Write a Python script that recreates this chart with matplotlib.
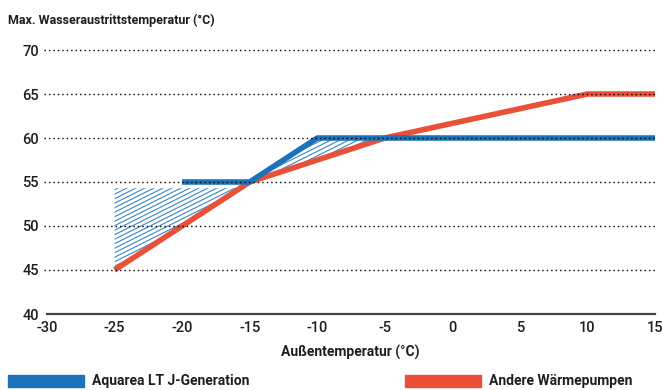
import numpy as np
import matplotlib
matplotlib.use("Agg")
import matplotlib.pyplot as plt
from matplotlib.collections import LineCollection
from matplotlib.patches import PathPatch

# ---- data ----
x_ticks = [-30, -25, -20, -15, -10, -5, 0, 5, 10, 15]
y_ticks = [40, 45, 50, 55, 60, 65, 70]

blue_x = [-20, -15, -10, 15]
blue_y = [55, 55, 60, 60]

red_x = [-25, -15, -5, 10, 15]
red_y = [45, 55, 60, 65, 65]

shade1_x = [-25, -15]
shade1_top = 54.3
shade2_x = [-15, -5]

title = "Max. Wasseraustrittstemperatur (°C)"
xlabel = "Außentemperatur (°C)"
label_blue = "Aquarea LT J-Generation"
label_red = "Andere Wärmepumpen"

BLUE = "#1b72b9"
RED = "#ea4f38"
TXT = "#1e1e1e"

plt.rcParams['font.family'] = ["Roboto", "DejaVu Sans"]

fig = plt.figure(figsize=(6.62, 3.9), dpi=100)
ax = fig.add_axes([47/662, 1-314/390, 608/662, 264/390])
ax.set_xlim(-30, 15)
ax.set_ylim(40, 70)

# shaded regions (hatched)
xs1 = np.linspace(shade1_x[0], shade1_x[1], 200)
r1 = np.interp(xs1, red_x, red_y)
m1 = r1 < shade1_top
xs2 = np.linspace(shade2_x[0], shade2_x[1], 200)
r2 = np.interp(xs2, red_x, red_y)
b2 = np.interp(xs2, blue_x, blue_y)

p1 = ax.fill_between(xs1[m1], r1[m1], shade1_top, facecolor='none', edgecolor='none')
p2 = ax.fill_between(xs2, r2, b2, facecolor='none', edgecolor='none')
W, H = 608.0, 264.0
slope = 0.5
for pc in (p1, p2):
    for path in pc.get_paths():
        patch = PathPatch(path, transform=ax.transData, facecolor='none', edgecolor='none')
        ax.add_patch(patch)
        segs = []
        for c in np.arange(-400, 300, 4.5):
            segs.append([(0, c / H), (1, (c + slope * W) / H)])
        lc = LineCollection(segs, colors="#3a86c4", linewidths=0.8, transform=ax.transAxes, zorder=1)
        ax.add_collection(lc)
        lc.set_clip_path(patch)

ax.plot(red_x, red_y, color=RED, lw=4.0, solid_capstyle='butt', zorder=3, clip_on=False)
ax.plot(blue_x, blue_y, color=BLUE, lw=4.0, solid_capstyle='butt', zorder=4, clip_on=False)

# dotted grid on top
for y in y_ticks[1:]:
    ax.plot([-30.2, 15], [y, y], color='black', lw=1.0, linestyle=(0, (1, 2.2)), zorder=5, clip_on=False)

for s in ['top', 'right', 'left']:
    ax.spines[s].set_visible(False)
ax.spines['bottom'].set_color('#444444')
ax.spines['bottom'].set_linewidth(1.6)
ax.set_xticks(x_ticks)
ax.set_yticks(y_ticks)
ax.tick_params(length=0, labelsize=10.5, colors=TXT)
ax.tick_params(axis='y', pad=6)
ax.tick_params(axis='x', pad=5)
ax.set_xticklabels([("-" + str(-t)) if t < 0 else str(t) for t in x_ticks])
for lab in ax.get_xticklabels() + ax.get_yticklabels():
    lab.set_fontweight('medium')

fig.text(8/662, 1-20/390, title, fontsize=9, fontweight='bold', color=TXT, va='center', ha='left')
fig.text(350/662, 1-352/390, xlabel, fontsize=10, fontweight='bold', color=TXT, va='center', ha='center')

# legend
fig.patches.append(plt.Rectangle((8/662, 1-387/390), 76/662, 12/390, transform=fig.transFigure, color=BLUE))
fig.text(92/662, 1-381/390, label_blue, fontsize=10, fontweight='bold', color=TXT, va='center', ha='left')
fig.patches.append(plt.Rectangle((405/662, 1-387/390), 76/662, 12/390, transform=fig.transFigure, color=RED))
fig.text(489/662, 1-381/390, label_red, fontsize=10, fontweight='bold', color=TXT, va='center', ha='left')

fig.savefig("out.png", dpi=100)
